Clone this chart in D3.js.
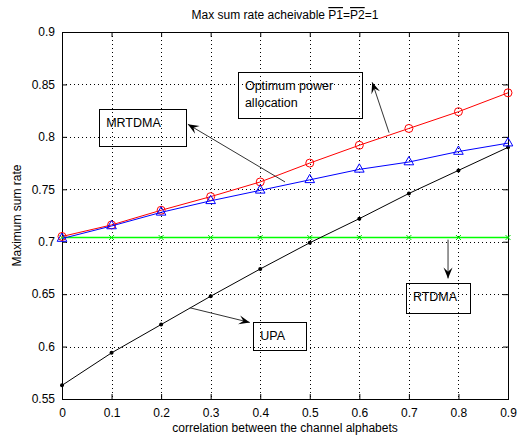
<!DOCTYPE html>
<html>
<head>
<meta charset="utf-8">
<script src="https://cdn.jsdelivr.net/npm/d3@7"></script>
<style>
  body { margin: 0; background: #fff; }
  text { font-family: "Liberation Sans", Arial, sans-serif; fill: #000; }
</style>
</head>
<body>
<svg id="chart" width="519" height="438"></svg>
<script>
const corr = [0, 0.1, 0.2, 0.3, 0.4, 0.5, 0.6, 0.7, 0.8, 0.9];
const optimum = [0.705, 0.716, 0.730, 0.743, 0.757, 0.775, 0.792, 0.808, 0.824, 0.842];
const mrtdma = [0.703, 0.715, 0.728, 0.739, 0.749, 0.759, 0.769, 0.776, 0.786, 0.794];
const rtdma = [0.704, 0.704, 0.704, 0.704, 0.704, 0.704, 0.704, 0.704, 0.704, 0.704];
const upa = [0.563, 0.594, 0.621, 0.648, 0.674, 0.699, 0.722, 0.746, 0.768, 0.790];
const xTicks = [0, 0.1, 0.2, 0.3, 0.4, 0.5, 0.6, 0.7, 0.8, 0.9];
const yTicks = [0.55, 0.6, 0.65, 0.7, 0.75, 0.8, 0.85, 0.9];

// annotations: text boxes and arrows in data units
const notes = [
  { lines: ['Optimum power', 'allocation'], box: [0.355, 0.862, 0.605, 0.818] },
  { lines: ['MRTDMA'], box: [0.075, 0.827, 0.250, 0.792] },
  { lines: ['RTDMA'], box: [0.694, 0.661, 0.824, 0.632] },
  { lines: ['UPA'], box: [0.386, 0.623, 0.493, 0.596] },
];
const arrows = [
  [[0.660, 0.804], [0.626, 0.852]],
  [[0.450, 0.757], [0.254, 0.812]],
  [[0.779, 0.702], [0.779, 0.665]],
  [[0.258, 0.637], [0.379, 0.623]],
];

const svg = d3.select('#chart');
const margin = { left: 62, right: 11, top: 32, bottom: 39 };
const width = 519 - margin.left - margin.right;
const height = 438 - margin.top - margin.bottom;

const x = d3.scaleLinear([0, 0.9], [margin.left, margin.left + width]);
const y = d3.scaleLinear([0.55, 0.9], [margin.top + height, margin.top]);

// grid
const grid = svg.append('g')
  .attr('stroke', '#000')
  .attr('stroke-width', 1)
  .attr('stroke-dasharray', '1,3');
grid.selectAll('.gx')
  .data(xTicks.slice(1, -1))
  .join('line')
  .attr('x1', (d) => Math.round(x(d)) + 0.5)
  .attr('x2', (d) => Math.round(x(d)) + 0.5)
  .attr('y1', margin.top)
  .attr('y2', margin.top + height);
grid.selectAll('.gy')
  .data(yTicks.slice(1, -1))
  .join('line')
  .attr('y1', (d) => Math.round(y(d)) + 0.5)
  .attr('y2', (d) => Math.round(y(d)) + 0.5)
  .attr('x1', margin.left)
  .attr('x2', margin.left + width);

// axes with inward ticks
const fmt = (d) => String(d);
svg.append('g')
  .attr('transform', `translate(0,${margin.top + height})`)
  .call(d3.axisBottom(x).tickValues(xTicks).tickFormat(fmt).tickSizeInner(-5).tickSizeOuter(0).tickPadding(9));
svg.append('g')
  .attr('transform', `translate(${margin.left},0)`)
  .call(d3.axisLeft(y).tickValues(yTicks).tickFormat(fmt).tickSizeInner(-5).tickSizeOuter(0).tickPadding(7));
svg.append('g')
  .attr('transform', `translate(0,${margin.top})`)
  .call(d3.axisTop(x).tickValues(xTicks).tickFormat('').tickSizeInner(-5).tickSizeOuter(0));
svg.append('g')
  .attr('transform', `translate(${margin.left + width},0)`)
  .call(d3.axisRight(y).tickValues(yTicks).tickFormat('').tickSizeInner(-5).tickSizeOuter(0));
svg.selectAll('.domain').remove();
svg.selectAll('.tick text').style('font-size', '12px').attr('fill', '#000');
svg.selectAll('.tick line').attr('stroke', '#000');

svg.append('rect')
  .attr('x', margin.left + 0.5)
  .attr('y', margin.top + 0.5)
  .attr('width', width)
  .attr('height', height)
  .attr('fill', 'none')
  .attr('stroke', '#000');

// series
const line = d3.line().x((d) => x(d[0])).y((d) => y(d[1]));
function series(vals, color, w) {
  const pts = corr.map((c, i) => [c, vals[i]]);
  svg.append('path')
    .datum(pts)
    .attr('d', line)
    .attr('fill', 'none')
    .attr('stroke', color)
    .attr('stroke-width', w || 1);
  return pts;
}

const rtPts = series(rtdma, '#00ff00', 1.6);
svg.append('g').selectAll('path')
  .data(rtPts)
  .join('path')
  .attr('d', (d) => {
    const px = x(d[0]);
    const py = y(d[1]);
    return `M${px - 2.5},${py - 2.5}L${px + 2.5},${py + 2.5}M${px - 2.5},${py + 2.5}L${px + 2.5},${py - 2.5}`;
  })
  .attr('stroke', '#00dd00')
  .attr('stroke-width', 1);

const upPts = series(upa, '#000');
svg.append('g').selectAll('circle')
  .data(upPts)
  .join('circle')
  .attr('cx', (d) => x(d[0]))
  .attr('cy', (d) => y(d[1]))
  .attr('r', 2)
  .attr('fill', '#000');

const opPts = series(optimum, '#ff0000');
svg.append('g').selectAll('circle')
  .data(opPts)
  .join('circle')
  .attr('cx', (d) => x(d[0]))
  .attr('cy', (d) => y(d[1]))
  .attr('r', 4)
  .attr('fill', 'none')
  .attr('stroke', '#ff0000');

const mrPts = series(mrtdma, '#0000ff');
svg.append('g').selectAll('path')
  .data(mrPts)
  .join('path')
  .attr('d', d3.symbol().type(d3.symbolTriangle).size(40))
  .attr('transform', (d) => `translate(${x(d[0])},${y(d[1])})`)
  .attr('fill', 'none')
  .attr('stroke', '#0000ff');

// annotation boxes
notes.forEach((n) => {
  const [x0, y0, x1, y1] = n.box;
  svg.append('rect')
    .attr('x', Math.round(x(x0)) + 0.5)
    .attr('y', Math.round(y(y0)) + 0.5)
    .attr('width', Math.round(x(x1) - x(x0)))
    .attr('height', Math.round(y(y1) - y(y0)))
    .attr('fill', 'none')
    .attr('stroke', '#000');
  n.lines.forEach((t, i) => {
    svg.append('text')
      .attr('x', x(x0) + 7)
      .attr('y', y(y0) + 18 + i * 17)
      .style('font-size', '12.5px')
      .text(t);
  });
});

// arrows
arrows.forEach(([from, to]) => {
  const x1 = x(from[0]);
  const y1 = y(from[1]);
  const x2 = x(to[0]);
  const y2 = y(to[1]);
  svg.append('line')
    .attr('x1', x1).attr('y1', y1)
    .attr('x2', x2).attr('y2', y2)
    .attr('stroke', '#333')
    .attr('stroke-width', 1);
  const ang = Math.atan2(y2 - y1, x2 - x1);
  const len = 11;
  const w = 4.5;
  const bx = x2 - len * Math.cos(ang);
  const by = y2 - len * Math.sin(ang);
  const mx = x2 - len * 0.6 * Math.cos(ang);
  const my = y2 - len * 0.6 * Math.sin(ang);
  const px = -Math.sin(ang) * w;
  const py = Math.cos(ang) * w;
  svg.append('path')
    .attr('d', `M${x2},${y2}L${bx + px},${by + py}L${mx},${my}L${bx - px},${by - py}Z`)
    .attr('fill', '#000');
});

// labels
const title = svg.append('text')
  .attr('x', margin.left + width / 2)
  .attr('y', 19)
  .attr('text-anchor', 'middle')
  .style('font-size', '12px');
title.append('tspan').text('Max sum rate acheivable ');
title.append('tspan').style('text-decoration', 'overline').text('P1');
title.append('tspan').text('=');
title.append('tspan').style('text-decoration', 'overline').text('P2');
title.append('tspan').text('=1');

svg.append('text')
  .attr('x', margin.left + width / 2)
  .attr('y', 432)
  .attr('text-anchor', 'middle')
  .style('font-size', '12px')
  .text('correlation between the channel alphabets');

svg.append('text')
  .attr('transform', `translate(21,${margin.top + height / 2}) rotate(-90)`)
  .attr('text-anchor', 'middle')
  .style('font-size', '12px')
  .text('Maximum sum rate');
</script>
</body>
</html>
